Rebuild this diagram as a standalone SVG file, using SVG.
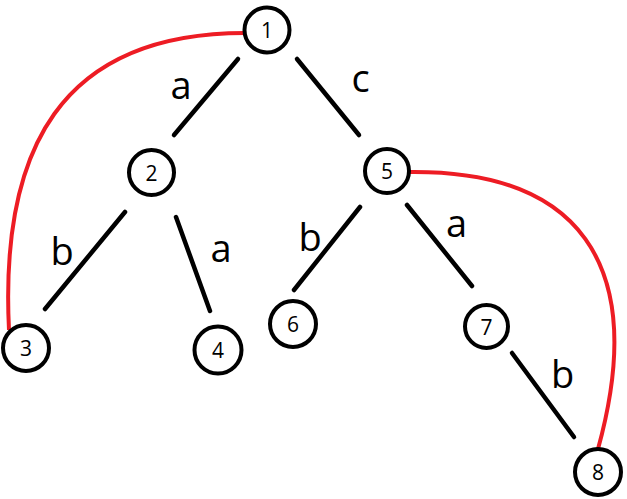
<svg xmlns="http://www.w3.org/2000/svg" width="627" height="499" viewBox="0 0 627 499">
<style>
.n circle{fill:#fff;stroke:#000;stroke-width:4}
.n text{font-family:"Open Sans","Noto Sans",sans-serif;font-size:21px;text-anchor:middle;fill:#000}
.e line{stroke:#000;stroke-width:4.5;stroke-linecap:round}
.r{fill:none;stroke:#ed1c24;stroke-width:4}
.lbl{font-family:"Open Sans","Noto Sans",sans-serif;font-size:38px;text-anchor:middle;fill:#000}
</style>
<rect width="627" height="499" fill="#fff"/>
<g id="connectors">
<g class="e">
<line x1="238" y1="59" x2="174" y2="135"/>
<line x1="297" y1="59" x2="359" y2="135"/>
<line x1="125" y1="212" x2="45" y2="309"/>
<line x1="176" y1="217" x2="210" y2="311"/>
<line x1="360" y1="207" x2="294" y2="290"/>
<line x1="407" y1="205" x2="472" y2="286"/>
<line x1="512" y1="353" x2="574" y2="437"/>
</g>
<path class="r" d="M9 330 C0 150 60 33 245 33"/>
<path class="r" d="M409 172 C575 170 650 260 598 449"/>
<text class="lbl" x="181" y="99">a</text>
<text class="lbl" x="360.5" y="92">c</text>
<text class="lbl" x="62" y="265">b</text>
<text class="lbl" x="221" y="262">a</text>
<text class="lbl" x="310" y="251">b</text>
<text class="lbl" x="456.5" y="237">a</text>
<text class="lbl" x="562.5" y="388">b</text>
</g>
<g id="node1" class="n"><circle cx="267" cy="30" r="22.5"/><text x="267" y="38">1</text></g>
<g id="node2" class="n"><circle cx="151.5" cy="172.5" r="22.5"/><text x="151.5" y="180.5">2</text></g>
<g id="node3" class="n"><circle cx="26" cy="348" r="23"/><text x="26" y="356">3</text></g>
<g id="node4" class="n"><circle cx="218" cy="350" r="23.5"/><text x="218" y="358">4</text></g>
<g id="node5" class="n"><circle cx="387" cy="171" r="22"/><text x="387" y="179">5</text></g>
<g id="node6" class="n"><circle cx="293" cy="324" r="23"/><text x="293" y="332">6</text></g>
<g id="node7" class="n"><circle cx="486.5" cy="326.5" r="21.5"/><text x="486.5" y="334.5">7</text></g>
<g id="node8" class="n"><circle cx="598" cy="472" r="23"/><text x="598" y="480">8</text></g>
</svg>
